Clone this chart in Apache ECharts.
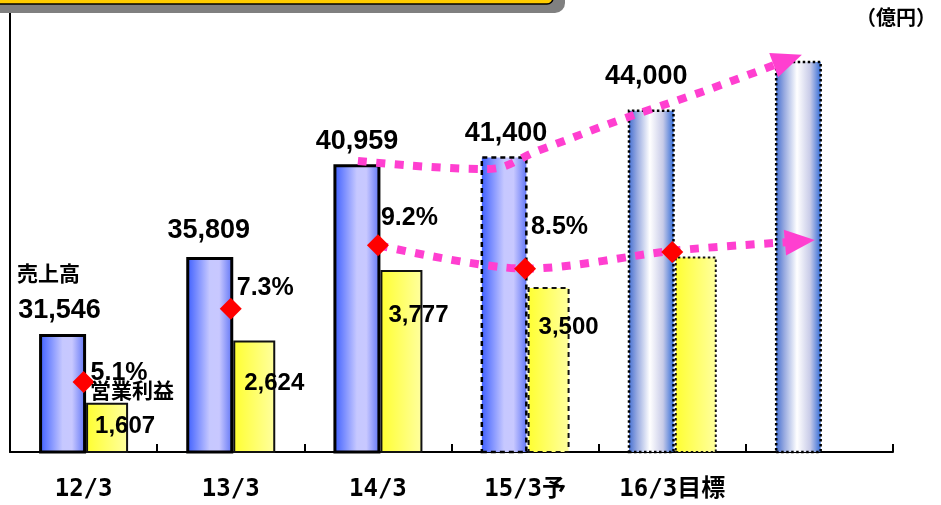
<!DOCTYPE html>
<html><head><meta charset="utf-8">
<script src="https://cdn.jsdelivr.net/npm/echarts@6/dist/echarts.min.js"></script>
<style>html,body{margin:0;padding:0;background:#fff}#c{width:941px;height:505px}</style>
</head><body><div id="c"></div>
<script>
// ---- data ----
const categories = ['12/3', '13/3', '14/3', '15/3予', '16/3目標', ''];
const sales = [31546, 35809, 40959, 41400, 44000, 46700];           // 売上高 (億円)
const operatingProfit = [1607, 2624, 3777, 3500, 4000, null];       // 営業利益 (億円)
const margin = [5.1, 7.3, 9.2, 8.5, 9.0, null];                     // 営業利益率 (%)
const status = ['actual', 'actual', 'actual', 'forecast', 'target', 'target'];
const salesLabelShown = [true, true, true, true, true, false];
const profitLabelShown = [true, true, true, true, false, false];
const marginLabelShown = [true, true, true, true, false, false];
// trend arrows: [category position, value]
const salesTrend = [[2.364, 41140], [3.24, 40690], [3.6, 41750], [4.144, 43410], [4.735, 45070], [5.285, 46740]];
const marginTrend = [[2.507, 9.2], [3.505, 8.5], [4.531, 9.05], [5.367, 9.32]];

// ---- styles ----
const salesLabelOffset = [[-3, 0], [-1, -3], [0, 1], [2, 1], [-5, -9], [0, 0]];
const profitLabelPos = [[9, 24], [11, 43], [8, 45], [11, 40], [0, 0], [0, 0]];
const marginLabelOffset = [[7, -9], [6, -21], [3, -27], [6, -42], [0, 0], [0, 0]];
const PINK = '#ff3fd0';
const NUMFONT = "'Liberation Sans', Arial, sans-serif";
const CJK = "'Noto Sans CJK JP', sans-serif";

function grad(stops) {
  return new echarts.graphic.LinearGradient(0, 0, 1, 0, stops.map(s => ({offset: s[0], color: s[1]})));
}
const blueSolid = () => grad([[0, '#3a5cff'], [0.5, '#c6c8ff'], [0.7, '#c8c8ff'], [1, '#5a70f5']]);
const blueTarget = () => grad([[0, '#3a68d0'], [0.2, '#98aae0'], [0.47, '#ffffff'], [0.75, '#c8cbe8'], [1, '#2563d6']]);
const yellowG = () => grad([[0, '#ffff30'], [1, '#ffffa0']]);
const borderOf = s => s === 'actual' ? {borderType: 'solid'} : s === 'forecast' ? {borderType: [5, 4]} : {borderType: [2.5, 2.5]};

const salesData = sales.map((v, i) => ({
  value: v,
  itemStyle: Object.assign({
    color: status[i] === 'target' ? blueTarget() : blueSolid(),
    borderColor: '#000',
    borderWidth: status[i] === 'actual' ? 3 : 2.5
  }, borderOf(status[i])),
  label: {show: salesLabelShown[i], offset: salesLabelOffset[i]}
}));
const profitData = operatingProfit.map((v, i) => ({
  value: v == null ? '-' : v,
  itemStyle: Object.assign({color: yellowG(), borderColor: '#111', borderWidth: 2}, borderOf(status[i])),
  label: {show: profitLabelShown[i], position: profitLabelPos[i]}
}));
const marginData = margin.map((v, i) => ({
  value: v == null ? '-' : v,
  label: {show: marginLabelShown[i], offset: marginLabelOffset[i]}
}));

function trendData(arr, rot) {
  return arr.map((p, i) => i === arr.length - 1
    ? {value: p, symbol: 'triangle', symbolSize: [26, 30], symbolRotate: rot, itemStyle: {color: PINK}}
    : {value: p, symbol: 'none'});
}

const chart = echarts.init(document.getElementById('c'), null, {renderer: 'canvas'});
chart.setOption({
  animation: false,
  backgroundColor: '#fff',
  grid: {left: 10, right: 48, top: 12, bottom: 53},
  xAxis: [
    {type: 'category', data: categories,
     axisLine: {lineStyle: {color: '#000', width: 2}},
     axisTick: {show: true, interval: 0, inside: true, length: 8, lineStyle: {color: '#000', width: 2}},
     axisLabel: {margin: 26, color: '#000', fontSize: 24, fontWeight: 'bold',
                 fontFamily: "'DejaVu Sans Mono', 'Noto Sans CJK JP', monospace"}},
    {type: 'value', min: 0, max: 6, show: false}
  ],
  yAxis: [
    {type: 'value', min: 25000, max: 49400, splitLine: {show: false}, axisTick: {show: false},
     axisLabel: {show: false}, axisLine: {show: true, lineStyle: {color: '#000', width: 2}}},
    {type: 'value', min: 800, max: 8000, show: false, splitLine: {show: false}},
    {type: 'value', min: 3, max: 16.2, show: false, splitLine: {show: false}}
  ],
  series: [
    {name: '売上高', type: 'bar', xAxisIndex: 0, yAxisIndex: 0, barWidth: 47, barGap: '0%',
     data: salesData, z: 2,
     label: {position: 'top', distance: 10, color: '#000', fontSize: 27, fontWeight: 'bold', fontFamily: NUMFONT,
             formatter: p => p.value.toLocaleString('en-US')}},
    {name: '営業利益', type: 'bar', xAxisIndex: 0, yAxisIndex: 1, barWidth: 42, barGap: '0%',
     data: profitData, z: 2,
     label: {align: 'left', verticalAlign: 'middle', color: '#000', fontSize: 24, fontWeight: 'bold', fontFamily: NUMFONT,
             formatter: p => p.value.toLocaleString('en-US')}},
    {name: 'salesTrend', type: 'line', xAxisIndex: 1, yAxisIndex: 0, smooth: 0.4, data: trendData(salesTrend, -70),
     lineStyle: {color: PINK, width: 8, type: [9, 9.5], cap: 'butt'}, itemStyle: {color: PINK}, z: 5, silent: true},
    {name: 'marginTrend', type: 'line', xAxisIndex: 1, yAxisIndex: 2, smooth: 0.3, data: trendData(marginTrend, -85),
     lineStyle: {color: PINK, width: 8, type: [9, 9.5], cap: 'butt'}, itemStyle: {color: PINK}, z: 5, silent: true},
    {name: '営業利益率', type: 'scatter', xAxisIndex: 0, yAxisIndex: 2, symbol: 'diamond', symbolSize: [22, 22],
     itemStyle: {color: '#ff0000', opacity: 1}, data: marginData, z: 8,
     label: {position: 'inside', align: 'left', verticalAlign: 'middle', color: '#000', opacity: 1,
             textBorderWidth: 0, fontSize: 25,
             fontWeight: 'bold', fontFamily: NUMFONT, formatter: p => p.value.toFixed(1) + '%'}}
  ],
  graphic: [
    {type: 'rect', z: 100, shape: {x: -20, y: -30, width: 585, height: 43, r: 10}, style: {fill: '#808080'}},
    {type: 'rect', z: 101, shape: {x: -20, y: -30, width: 573, height: 34, r: 6},
     style: {fill: '#ffcc00', stroke: '#000', lineWidth: 1.5}},
    {type: 'text', z: 100, left: 17, top: 263,
     style: {text: '売上高', fill: '#000', fontSize: 21, fontWeight: 'bold', fontFamily: CJK}},
    {type: 'text', z: 100, left: 90, top: 380,
     style: {text: '営業利益', fill: '#000', fontSize: 21, fontWeight: 'bold', fontFamily: CJK}},
    {type: 'text', z: 100, left: 856, top: 7,
     style: {text: '（億円）', fill: '#000', fontSize: 20, fontWeight: 'bold', fontFamily: CJK}}
  ]
});
</script>
</body></html>
